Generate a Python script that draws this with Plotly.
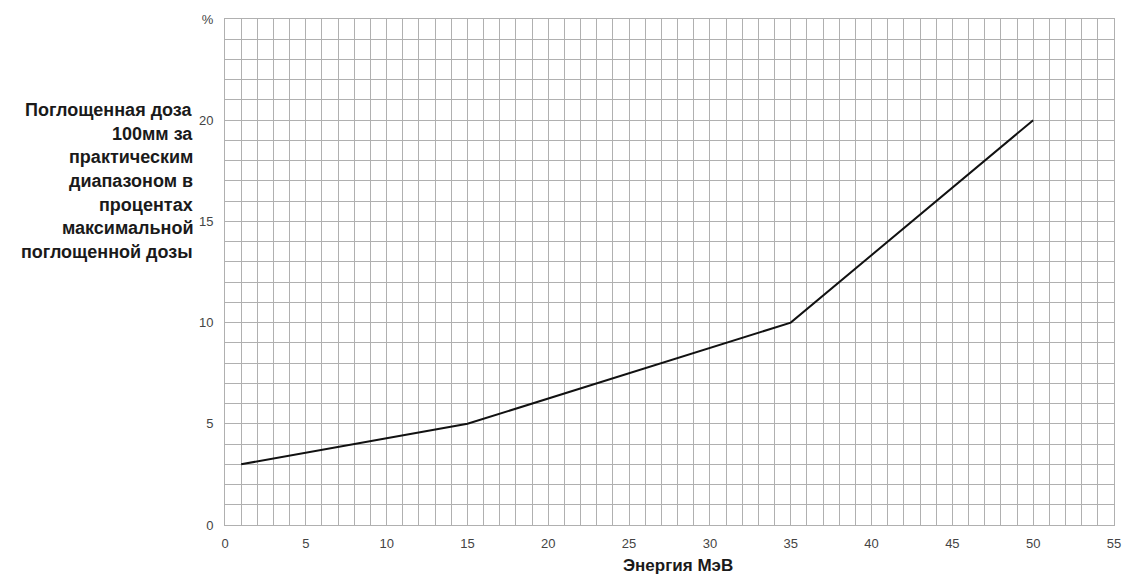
import plotly.graph_objects as go

energy = [1, 15, 35, 50]
dose = [3, 5, 10, 20]
x_ticks = [0, 5, 10, 15, 20, 25, 30, 35, 40, 45, 50, 55]
y_ticks = [0, 5, 10, 15, 20, 25]
y_ticktext = ["0", "5", "10", "15", "20", "%"]
y_title_lines = ["Поглощенная доза", "100мм за", "практическим", "диапазоном в",
                 "процентах", "максимальной", "поглощенной дозы"]
x_title = "Энергия МэВ"

FONT = "Arial, Liberation Sans, sans-serif"
L, R, T, B = 225, 12, 16, 60
W, H = 1133, 585
PW, PH = W - L - R, H - T - B

fig = go.Figure()
fig.add_trace(go.Scatter(x=energy, y=dose, mode="lines",
                         line=dict(color="#111111", width=2), showlegend=False))

grid_color = "#b0b0b0"
axis_common = dict(showgrid=True, gridcolor=grid_color, gridwidth=1,
                   minor=dict(dtick=1, showgrid=True, gridcolor=grid_color, gridwidth=1),
                   zeroline=False, showline=True, linecolor=grid_color, mirror=True,
                   ticks="", tickfont=dict(family=FONT, size=13, color="#444"))
fig.update_xaxes(range=[0, 55], tickvals=x_ticks, ticklabelstandoff=6, **axis_common)
fig.update_yaxes(range=[0, 25], tickvals=y_ticks, ticktext=y_ticktext,
                 ticklabelstandoff=8, **axis_common)

annotations = []
for i, line in enumerate(y_title_lines):
    cy = 107.5 + 23.8 * i  # pixel centre of the line
    annotations.append(dict(text="<b>" + line + "</b>", xref="paper", yref="paper",
                            x=(195 - L) / PW, y=1 - (cy - T) / PH,
                            xanchor="right", yanchor="middle", showarrow=False,
                            font=dict(family=FONT, size=18, color="#1a1a1a")))
annotations.append(dict(text="<b>" + x_title + "</b>", xref="paper", yref="paper",
                        x=(682 - L) / PW, y=1 - (566 - T) / PH,
                        xanchor="center", yanchor="middle", showarrow=False,
                        font=dict(family=FONT, size=17, color="#1a1a1a")))

fig.update_layout(width=W, height=H, margin=dict(l=L, r=R, t=T, b=B),
                  plot_bgcolor="white", paper_bgcolor="white", annotations=annotations)
fig.write_html("out.html", config={"displayModeBar": False},
               post_script="document.body.style.margin='0';document.body.style.overflow='hidden';")
